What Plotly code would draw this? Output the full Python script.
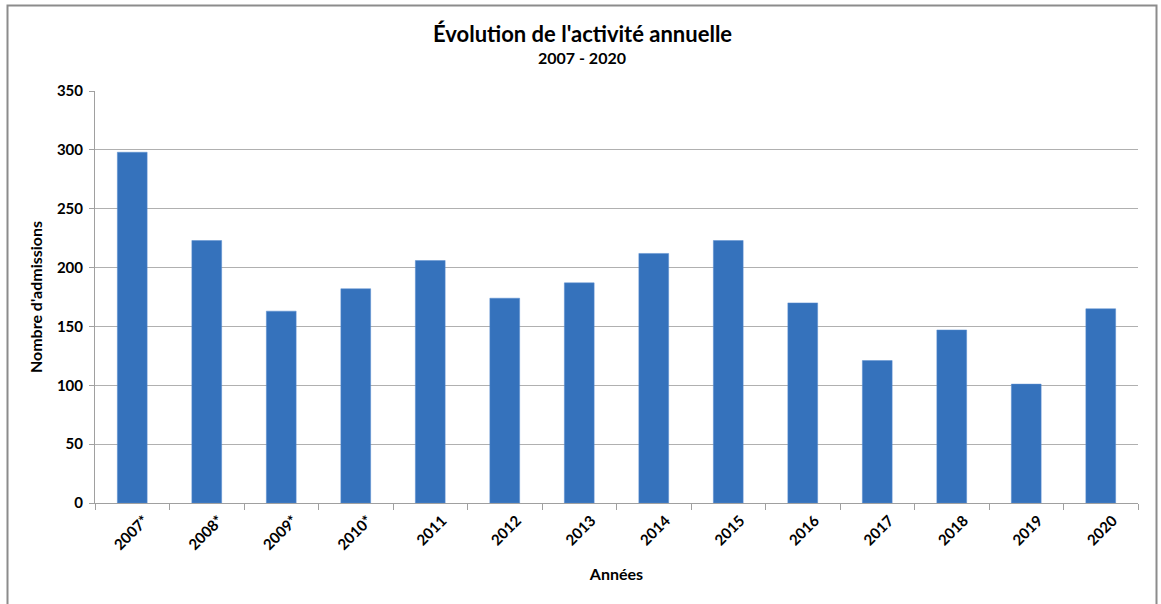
import plotly.graph_objects as go

annees = ["2007*", "2008*", "2009*", "2010*", "2011", "2012", "2013",
          "2014", "2015", "2016", "2017", "2018", "2019", "2020"]
admissions = [298, 223, 163, 182, 206, 174, 187, 212, 223, 170, 121, 147, 101, 165]
y_ticks = [0, 50, 100, 150, 200, 250, 300, 350]

FONT = "Lato"

fig = go.Figure(go.Bar(
    x=annees, y=admissions,
    marker=dict(color="#3572BC", line=dict(color="#5A8FD0", width=0.5)),
    width=0.4,
))

W, H = 1161, 604
L, R, T, B = 95, 23, 91, 101
pw, ph = W - L - R, H - T - B

fig.update_layout(
    width=W, height=H,
    margin=dict(l=L, r=R, t=T, b=B, autoexpand=False),
    paper_bgcolor="white", plot_bgcolor="white",
    showlegend=False,
    font=dict(family=FONT, color="black"),
    xaxis=dict(
        type="category", tickangle=-45, tickson="boundaries",
        ticks="outside", ticklen=6, tickcolor="#A0A0A0",
        showline=True, linecolor="#A0A0A0", linewidth=1,
        tickfont=dict(size=15, family=FONT, weight="bold"),
        ticklabelshift=12, ticklabelstandoff=2,
        title=dict(text="Années", font=dict(size=16, family=FONT, weight="bold"), standoff=16),
        showgrid=False, automargin=False,
    ),
    yaxis=dict(
        range=[0, 350], tickvals=y_ticks,
        ticks="outside", ticklen=5, tickcolor="#A0A0A0",
        showline=True, linecolor="#A0A0A0", linewidth=1,
        showgrid=True, gridcolor="#B0B0B0", gridwidth=1,
        zeroline=False, automargin=False,
        tickfont=dict(size=15, family=FONT, weight="bold"),
        ticklabelstandoff=3,
        title=dict(text="Nombre d'admissions", font=dict(size=16, family=FONT, weight="bold"), standoff=10),
    ),
    annotations=[
        dict(text="<b>Évolution de l'activité annuelle</b>", xref="paper", yref="paper",
             x=(582 - L) / pw, y=(H - B - 34) / ph, showarrow=False,
             font=dict(size=22, family=FONT), xanchor="center", yanchor="middle"),
        dict(text="<b>2007 - 2020</b>", xref="paper", yref="paper",
             x=(582 - L) / pw, y=(H - B - 58) / ph, showarrow=False,
             font=dict(size=16, family=FONT), xanchor="center", yanchor="middle"),
    ],
    shapes=[
        dict(type="rect", xref="paper", yref="paper",
             x0=(7.5 - L) / pw, x1=(1156.5 - L) / pw,
             y0=(H - B - 620) / ph, y1=(H - B - 5.5) / ph,
             line=dict(color="#8C8C8C", width=2), layer="below"),
    ],
)

fig.write_html("out.html", config={"displayModeBar": False},
               post_script="document.body.style.margin='0';document.body.style.overflow='hidden';")
